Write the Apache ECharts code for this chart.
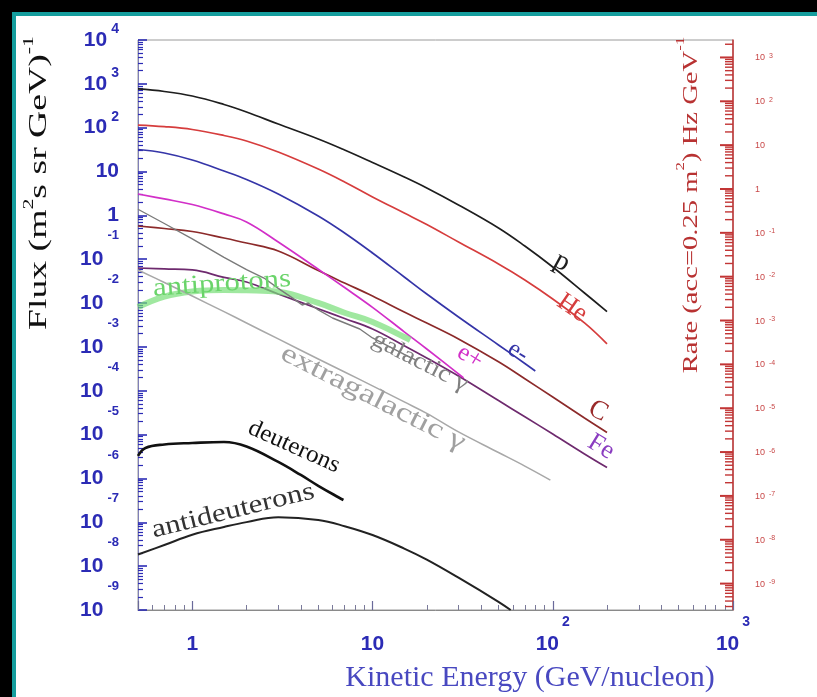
<!DOCTYPE html>
<html><head><meta charset="utf-8">
<script src="https://cdn.jsdelivr.net/npm/echarts@6/dist/echarts.min.js"></script>
<style>
html,body{margin:0;padding:0;background:#000;width:817px;height:697px;overflow:hidden;}
#frame{position:absolute;left:12px;top:12px;width:840px;height:720px;background:#fff;border-left:4px solid #149d9d;border-top:4px solid #149d9d;}
#chart{position:absolute;left:0;top:0;width:817px;height:697px;}
</style></head><body>
<div id="frame"></div><div id="chart"></div>
<script>
// ---- data (kinetic energy in GeV/nucleon, flux in (m^2 s sr GeV)^-1) ----
const energyStd = [0.5,0.7,1,1.5,2,3,5,7,10,15,20,30,50,70,100,150,200];
const fluxP  = [764,670,528,338,228,121,55.2,31.0,16.1,7.51,4.22,1.73,0.516,0.2,0.0665,0.017,0.0064];
const fluxHe = [115,106,91,66.4,49.7,27.9,11.4,5.78,2.63,1.13,0.62,0.247,0.078,0.0337,0.0124,0.00352,0.00117];
const fluxC  = [0.573,0.502,0.429,0.305,0.234,0.154,0.0551,0.0287,0.0145,0.00625,0.00351,0.00152,0.000458,0.000188,7.2e-5,2.39e-5,1.12e-5];
const fluxFe = [0.0631,0.060,0.0569,0.0386,0.0303,0.0161,0.00744,0.00445,0.00257,0.00107,0.00056,0.000217,5.97e-5,2.55e-5,1.03e-5,3.61e-6,1.77e-6];

const energyEminus = [0.5,0.7,1,1.5,2,3,5,7,10,15,20,30,50,70,80];
const fluxEminus   = [31.8,26.5,18.3,10.3,6.6,3.08,0.97,0.397,0.139,0.0394,0.0161,0.00482,0.00111,0.00042,0.000283];

const energyEplus = [0.5,0.7,1,1.5,2,3,5,7,10,15,20,30,32];
const fluxEplus   = [3.08,2.37,1.77,1.08,0.71,0.247,0.059,0.0226,0.0080,0.00221,0.000897,0.000242,0.000196];

const energyPbar = [0.5,0.7,1,1.5,2,3,5,7,10,15,16.2];
const fluxPbar   = [0.00815,0.0141,0.0184,0.0199,0.0196,0.0181,0.01005,0.00602,0.00371,0.00169,0.00144];

const energyGalGamma = [0.5,0.7,1,1.5,2,2.5,3,3.73,4.07,4.4,5,6,8.5,10,15,17.3];
const fluxGalGamma   = [1.38,0.653,0.291,0.110,0.0578,0.0373,0.0216,0.0118,0.00905,0.01005,0.00696,0.00457,0.00256,0.0016,0.000676,0.000504];

const energyExGamma = [0.5,0.7,1,1.5,2,3,5,7,10,15,20,30,50,70,97];
const fluxExGamma   = [0.0569,0.0295,0.0145,0.00637,0.00352,0.00152,0.000531,0.000268,0.000129,5.56e-5,3.05e-5,1.15e-5,3.91e-6,1.92e-6,9.2e-7];

const energyDeut = [0.5,0.55,0.7,1,1.5,2,3,4,5,6.5,6.9];
const fluxDeut   = [3.26e-6,4.96e-6,5.96e-6,6.44e-6,6.79e-6,5.36e-6,2.38e-6,1.2e-6,6.8e-7,3.68e-7,3.23e-7];

const energyAntiDeut = [0.5,0.7,1,1.5,2,3,5,7,10,15,20,30,50,58.4];
const fluxAntiDeut   = [1.84e-8,3.03e-8,5.2e-8,7.83e-8,1.01e-7,1.30e-7,1.13e-7,8.16e-8,5.12e-8,2.52e-8,1.41e-8,5.46e-9,1.54e-9,1.0e-9];

const xRange = [0.5, 1000];
const fluxRange = [1e-9, 1e4];
const acceptance = 0.25;            // rate = flux * acceptance
const rateDecades = [1e-10,1e-9,1e-8,1e-7,1e-6,1e-5,1e-4,1e-3,1e-2,1e-1,1,10,100,1000];
const rateSubSteps = [1,2,3,4,5,6,7,8,9];
// ---------------------------------------------------------------

function pair(E, F){ return E.map((e,i)=>[e,F[i]]); }
function isPow10(v){ const l=Math.log10(v); return Math.abs(l-Math.round(l))<1e-6; }
function powLabel(v){
  if(!isPow10(v)) return '';
  const e=Math.round(Math.log10(v));
  if(e===0) return '{b|1}';
  if(e===1) return '{b|10}';
  return e<0 ? '{b|10}{n|'+e+'}' : '{b|10}{s|'+e+'}';
}
const serif = 'Liberation Serif';
const sans = 'Liberation Sans';
const blue = '#2b2bb5';
const red = '#c23535';
const redLbl = '#c84848';

const defs = [
  {name:'p', E:energyStd, F:fluxP, color:'#1e1e1e', w:1.7},
  {name:'He', E:energyStd, F:fluxHe, color:'#d63d3d', w:1.7},
  {name:'e-', E:energyEminus, F:fluxEminus, color:'#3535a8', w:1.7},
  {name:'C', E:energyStd, F:fluxC, color:'#8c2a2a', w:1.7},
  {name:'Fe', E:energyStd, F:fluxFe, color:'#6e2a6e', w:1.7},
  {name:'e+', E:energyEplus, F:fluxEplus, color:'#d22fc8', w:1.7},
  {name:'antiprotons', E:energyPbar, F:fluxPbar, color:'rgba(120,222,120,0.7)', w:6},
  {name:'galactic', E:energyGalGamma, F:fluxGalGamma, color:'#7a7a7a', w:1.4, smooth:false},
  {name:'extragalactic', E:energyExGamma, F:fluxExGamma, color:'#a8a8a8', w:1.5},
  {name:'deuterons', E:energyDeut, F:fluxDeut, color:'#111', w:2.6},
  {name:'antideuterons', E:energyAntiDeut, F:fluxAntiDeut, color:'#222', w:2}
];
const series = defs.map(d=>({
  type:'line', name:d.name, data:pair(d.E,d.F), xAxisIndex:0, yAxisIndex:0,
  showSymbol:false, symbol:'none', smooth: d.smooth===false?false:0.4,
  lineStyle:{color:d.color, width:d.w}, silent:true, clip:true, z:3
}));

// right-hand rate axis ticks, placed through the flux scale (flux = rate / acceptance)
const rateTicks = [];
rateDecades.forEach(r=>rateSubSteps.forEach(m=>{
  const v = r*m;
  if (v >= fluxRange[0]*acceptance*0.999 && v <= fluxRange[1]*acceptance*1.001)
    rateTicks.push([xRange[1], v/acceptance, v, m===1?1:0]);
}));
series.push({
  type:'custom', name:'rateAxis', coordinateSystem:'cartesian2d', xAxisIndex:0, yAxisIndex:0,
  data: rateTicks, encode:{x:0, y:1}, clip:false, silent:true, z:6,
  renderItem: function(params, api){
    const pt = api.coord([api.value(0), api.value(1)]);
    const major = api.value(3) === 1;
    const len = major ? 13 : 8;
    const children = [{type:'line', shape:{x1:pt[0]-len, y1:pt[1], x2:pt[0], y2:pt[1]},
      style:{stroke:red, lineWidth: major?2:1.4}}];
    if (major) {
      const e = Math.round(Math.log10(api.value(2)));
      let t = e===0 ? '{b|1}' : (e===1 ? '{b|10}' : '{b|10}{s|'+e+'}');
      children.push({type:'text', x:pt[0]+22, y:pt[1],
        style:{text:t, align:'left', verticalAlign:'middle',
          rich:{b:{fontSize:9, fontFamily:sans, fill:redLbl, lineHeight:10, verticalAlign:'bottom'},
                s:{fontSize:7, fontFamily:sans, fill:redLbl, lineHeight:8, verticalAlign:'top', padding:[0,0,0,4]}}}});
    }
    return {type:'group', children:children};
  }
});

function lbl(text, x, y, color, size, rot, sx){
  return {type:'text', x:x, y:y, rotation:rot||0, scaleX:sx||1, z:10,
    style:{text:text, fill:color, font: size+'px "'+serif+'"', align:'center', verticalAlign:'middle'}};
}

const option = {
  animation:false,
  backgroundColor:'transparent',
  grid:{left:138, right:84, top:40, bottom:87, show:true, borderColor:'#9a9a9a', borderWidth:1},
  xAxis:[{
    type:'log', min:xRange[0], max:xRange[1], logBase:10,
    axisLine:{show:true, lineStyle:{color:'#8a8a8a'}},
    axisTick:{show:true, inside:true, length:9, lineStyle:{color:'#6a6a9a', width:1.2}},
    minorTick:{show:true, splitNumber:9, length:5, lineStyle:{color:'#7a7a9a', width:1}},
    splitLine:{show:false}, minorSplitLine:{show:false},
    axisLabel:{formatter:powLabel, margin:5, color:blue,
      rich:{b:{fontSize:21, fontWeight:'bold', fontFamily:sans, color:blue, lineHeight:40, verticalAlign:'bottom'},
            s:{fontSize:14, fontWeight:'bold', fontFamily:sans, color:blue, lineHeight:14, verticalAlign:'top', padding:[0,0,0,3]}}}
  }],
  yAxis:[{
    type:'log', min:fluxRange[0], max:fluxRange[1], interval:1, logBase:10, position:'left',
    axisLine:{show:true, lineStyle:{color:'#8080b8'}},
    axisTick:{show:true, inside:true, length:9, lineStyle:{color:blue, width:1.6}},
    minorTick:{show:true, splitNumber:9, length:5, lineStyle:{color:blue, width:1.2}},
    splitLine:{show:false}, minorSplitLine:{show:false},
    axisLabel:{formatter:powLabel, margin:19, color:blue,
      rich:{b:{fontSize:21, fontWeight:'bold', fontFamily:sans, color:blue, lineHeight:22},
            s:{fontSize:14, fontWeight:'bold', fontFamily:sans, color:blue, lineHeight:36, verticalAlign:'top', padding:[0,0,0,4]},
            n:{fontSize:13, fontWeight:'bold', fontFamily:sans, color:blue, lineHeight:60, verticalAlign:'top', padding:[0,0,0,4]}}}
  },{
    type:'log', min:fluxRange[0]*acceptance, max:fluxRange[1]*acceptance, logBase:10, position:'right',
    axisLine:{show:true, lineStyle:{color:red, width:1.5}},
    axisTick:{show:false}, minorTick:{show:false}, axisLabel:{show:false},
    splitLine:{show:false}, minorSplitLine:{show:false}
  }],
  series: series,
  graphic:[
    {type:'text', x:37, y:183, rotation:Math.PI/2, scaleX:1.45, z:10,
      style:{text:'{t|Flux (m}{s|2}{t|s sr GeV)}{s|-1}', align:'center', verticalAlign:'middle',
        rich:{t:{fontSize:26, fontFamily:serif, fill:'#111', lineHeight:30, verticalAlign:'bottom'},
              s:{fontSize:15, fontFamily:serif, fill:'#111', lineHeight:14, verticalAlign:'top'}}}},
    {type:'text', x:688, y:205, rotation:Math.PI/2, scaleX:1.3, z:10,
      style:{text:'{t|Rate (acc=0.25 m}{s|2}{t|) Hz GeV}{s|-1}', align:'center', verticalAlign:'middle',
        rich:{t:{fontSize:22, fontFamily:serif, fill:'#b83232', lineHeight:28, verticalAlign:'bottom'},
              s:{fontSize:13, fontFamily:serif, fill:'#b83232', lineHeight:12, verticalAlign:'top'}}}},
    {type:'text', x:530, y:678, z:10,
      style:{text:'Kinetic Energy (GeV/nucleon)', fill:'#4848c0', font:'30px "'+serif+'"', align:'center', verticalAlign:'middle'}},
    lbl('p', 562, 262, '#1e1e1e', 28, -0.5),
    lbl('He', 572, 308, '#d63d3d', 26, -0.6),
    lbl('e-', 518, 352, '#3535a8', 25, -0.55),
    lbl('e+', 470, 357, '#d22fc8', 25, -0.55),
    lbl('C', 598, 411, '#9a2a2a', 27, -0.5),
    lbl('Fe', 601, 447, '#8a3cc0', 26, -0.55),
    lbl('antiprotons', 222, 284, '#6ad46a', 26, 0.07, 1.18),
    lbl('galactic \u03b3', 420, 362, '#808080', 24, -0.47, 1.15),
    lbl('extragalactic \u03b3', 373, 398, '#a0a0a0', 27, -0.47, 1.3),
    lbl('deuterons', 294, 447, '#111', 24, -0.42, 1.05),
    lbl('antideuterons', 233, 511, '#333', 26, 0.24, 1.19)
  ]
};
const chart = echarts.init(document.getElementById('chart'));
chart.setOption(option);
</script>
</body></html>
